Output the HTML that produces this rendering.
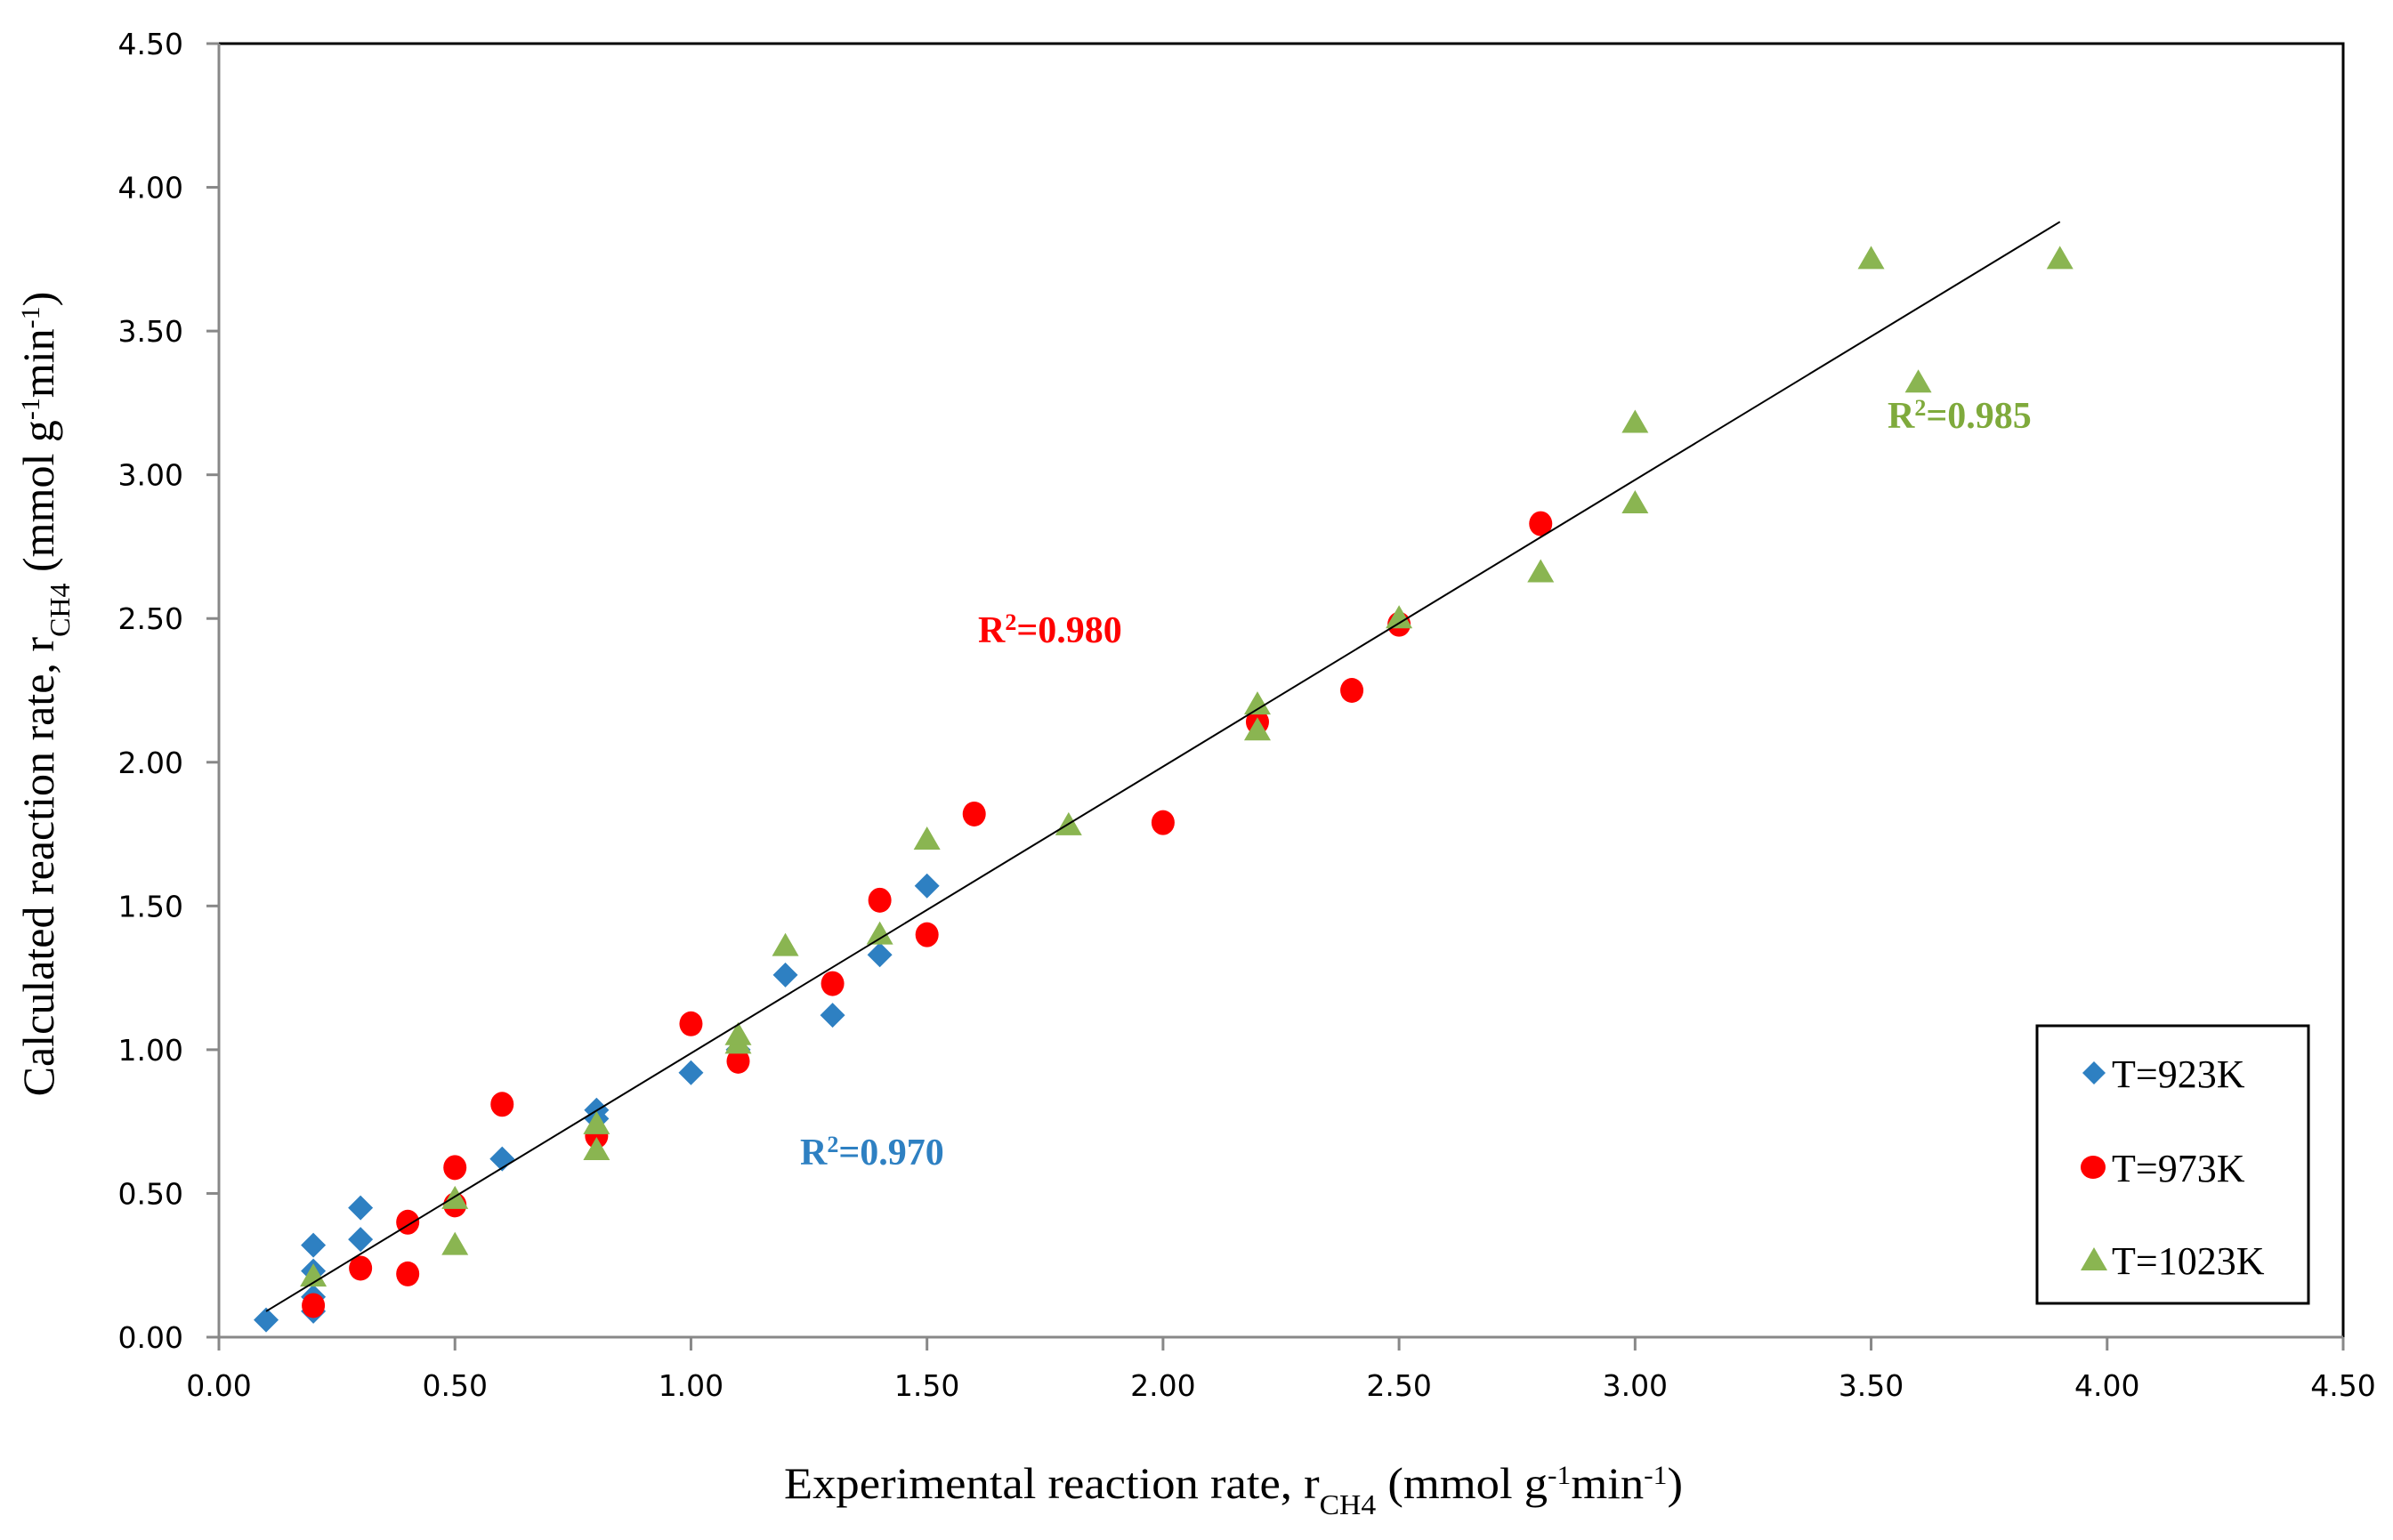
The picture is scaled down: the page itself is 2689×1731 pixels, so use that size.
<!DOCTYPE html>
<html><head><meta charset="utf-8">
<style>
html,body{margin:0;padding:0;background:#fff;}
svg{display:block;}
.tick{font-family:"DejaVu Sans","Liberation Sans",sans-serif;font-size:33px;fill:#000;}
.title{font-family:"Liberation Serif",serif;font-size:50px;fill:#000;}
.leg{font-family:"Liberation Serif",serif;font-size:44px;fill:#000;}
.r2{font-family:"Liberation Serif",serif;font-size:42px;font-weight:bold;}
</style></head>
<body>
<svg id="chart" width="2689" height="1731" viewBox="0 0 2689 1731" xmlns="http://www.w3.org/2000/svg">
<g id="axes"></g>
<g id="marks"></g>
<text class="r2" x="1099" y="722" fill="#ff0000">R<tspan baseline-shift="super" font-size="26">2</tspan>=0.980</text>
<text class="r2" x="899" y="1309" fill="#2e80c2">R<tspan baseline-shift="super" font-size="26">2</tspan>=0.970</text>
<text class="r2" x="2121" y="481" fill="#7faa3c">R<tspan baseline-shift="super" font-size="26">2</tspan>=0.985</text>
<text class="title" x="1386" y="1684" text-anchor="middle" textLength="1010" lengthAdjust="spacingAndGlyphs">Experimental reaction rate, r<tspan baseline-shift="sub" font-size="32">CH4</tspan> (mmol g<tspan baseline-shift="super" font-size="30">-1</tspan>min<tspan baseline-shift="super" font-size="30">-1</tspan>)</text>
<text class="title" transform="translate(60,780) rotate(-90)" text-anchor="middle">Calculated reaction rate, r<tspan baseline-shift="sub" font-size="32">CH4</tspan> (mmol g<tspan baseline-shift="super" font-size="30">-1</tspan>min<tspan baseline-shift="super" font-size="30">-1</tspan>)</text>
<g>
<rect x="2289" y="1153" width="305" height="312" fill="#fff" stroke="#000" stroke-width="3"/>
<path d="M2353,1193 L2366,1206 L2353,1219 L2340,1206 Z" fill="#2e80c2"/>
<text class="leg" x="2373" y="1222">T=923K</text>
<ellipse cx="2352" cy="1312" rx="14" ry="13" fill="#ff0000"/>
<text class="leg" x="2373" y="1328">T=973K</text>
<path d="M2353,1402 L2368,1428 L2338,1428 Z" fill="#8ab551"/>
<text class="leg" x="2373" y="1432">T=1023K</text>
</g>
</svg>
<script>
const xTicks = ["0.00","0.50","1.00","1.50","2.00","2.50","3.00","3.50","4.00","4.50"];
const yTicks = ["0.00","0.50","1.00","1.50","2.00","2.50","3.00","3.50","4.00","4.50"];
const x923 = [0.1,0.2,0.2,0.2,0.2,0.3,0.3,0.6,0.8,0.8,1.0,1.1,1.2,1.3,1.4,1.5];
const y923 = [0.06,0.09,0.14,0.23,0.32,0.34,0.45,0.62,0.79,0.76,0.92,1.0,1.26,1.12,1.33,1.57];
const x973 = [0.2,0.3,0.4,0.4,0.5,0.5,0.6,0.8,1.0,1.1,1.3,1.4,1.5,1.6,2.0,2.2,2.4,2.5,2.8];
const y973 = [0.11,0.24,0.22,0.40,0.46,0.59,0.81,0.70,1.09,0.96,1.23,1.52,1.40,1.82,1.79,2.14,2.25,2.48,2.83];
const x1023 = [0.2,0.5,0.5,0.8,0.8,1.1,1.1,1.2,1.4,1.5,1.8,2.2,2.2,2.5,2.8,3.0,3.0,3.5,3.6,3.9];
const y1023 = [0.21,0.32,0.48,0.65,0.74,1.02,1.05,1.36,1.40,1.73,1.78,2.20,2.11,2.50,2.66,3.18,2.90,3.75,3.32,3.75];
const trendX = [0.1,3.9];
const trendY = [0.09,3.88];

const NS="http://www.w3.org/2000/svg";
const L=246,R=2633,T=49,B=1503;
const sx=v=>L+(R-L)*v/4.5;
const sy=v=>B-(B-T)*v/4.5;
const axes=document.getElementById('axes');
const marks=document.getElementById('marks');
function mk(tag,attrs,parent){const e=document.createElementNS(NS,tag);for(const k in attrs)e.setAttribute(k,attrs[k]);parent.appendChild(e);return e;}

let e=mk('rect',{x:L,y:T,width:R-L,height:B-T,fill:'none',stroke:'#000','stroke-width':3},axes);


e=mk('line',{x1:L,y1:T,x2:L,y2:B,stroke:'#888','stroke-width':3},axes);


e=mk('line',{x1:L,y1:B,x2:R,y2:B,stroke:'#888','stroke-width':3},axes);



xTicks.forEach(t=>{const x=sx(parseFloat(t));
 let l=mk('line',{x1:x,y1:B,x2:x,y2:B+15,stroke:'#888','stroke-width':3},axes);
 
 
 let tx=mk('text',{x:x,y:1569,'text-anchor':'middle',class:'tick'},axes);tx.textContent=t;
 
 
});
yTicks.forEach(t=>{const y=sy(parseFloat(t));
 let l=mk('line',{x1:L-14,y1:y,x2:L,y2:y,stroke:'#888','stroke-width':3},axes);
 
 
 let tx=mk('text',{x:206,y:y+12,'text-anchor':'end',class:'tick'},axes);tx.textContent=t;
 
 
});

x923.forEach((v,i)=>{const x=sx(v),y=sy(y923[i]);
 let p=mk('path',{d:`M${x},${y-14} L${x+14},${y} L${x},${y+14} L${x-14},${y} Z`,fill:'#2e80c2'},marks);
 
 
});
x973.forEach((v,i)=>{
 let c=mk('ellipse',{cx:sx(v),cy:sy(y973[i]),rx:13,ry:14,fill:'#ff0000'},marks);
 
 
});
x1023.forEach((v,i)=>{const x=sx(v),y=sy(y1023[i]);
 let p=mk('path',{d:`M${x},${y-15} L${x+15},${y+11} L${x-15},${y+11} Z`,fill:'#8ab551'},marks);
 
 
});
e=mk('line',{x1:sx(trendX[0]),y1:sy(trendY[0]),x2:sx(trendX[1]),y2:sy(trendY[1]),stroke:'#000','stroke-width':2},marks);


</script>
</body></html>
